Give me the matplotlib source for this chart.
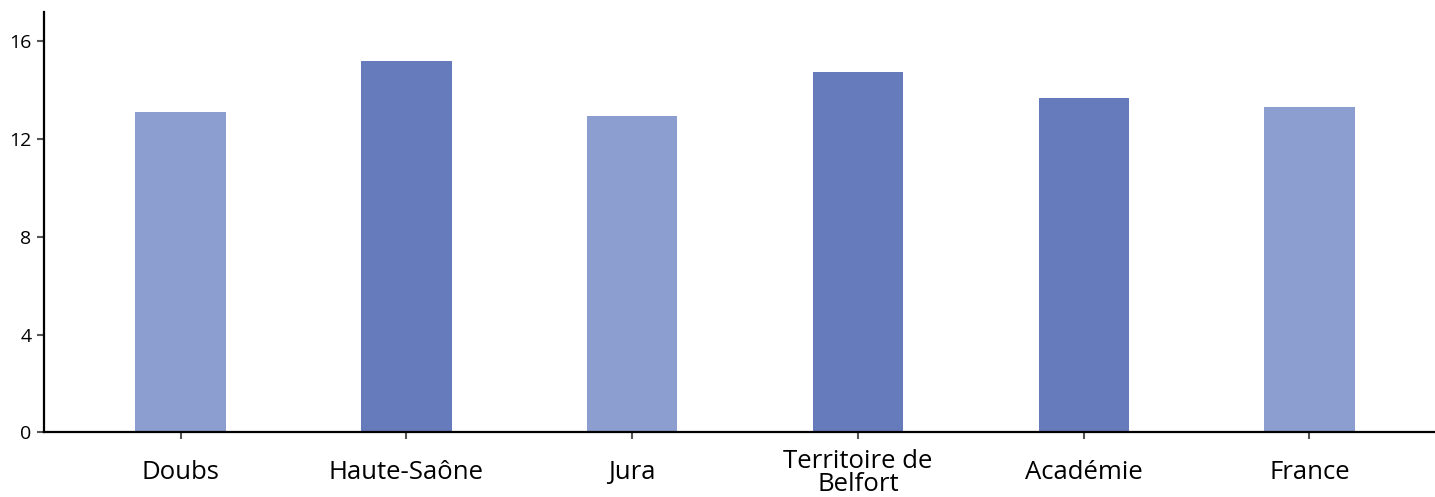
import matplotlib.pyplot as plt

categories = ["Doubs", "Haute-Saône", "Jura", "Territoire de\nBelfort", "Académie", "France"]
values = [13.1, 15.2, 12.95, 14.75, 13.7, 13.3]
shade = ["light", "dark", "light", "dark", "dark", "light"]
yticks = [0, 4, 8, 12, 16]

colours = {"light": "#8b9ecf", "dark": "#667bbb"}

plt.rcParams['font.family'] = ['Open Sans', 'DejaVu Sans']

fig = plt.figure(figsize=(14.35, 4.97), dpi=100)
ax = fig.add_axes([44 / 1435, 1 - 432.3 / 497, 1 - 44 / 1435, (432.3 - 12) / 497])

x = range(len(categories))
ax.bar(x, values, width=0.4, color=[colours[s] for s in shade])

ax.set_xlim(-0.605, 5.556)
ax.set_ylim(0, 17.2)
ax.set_yticks(yticks)
ax.set_xticks(list(x))
ax.set_xticklabels(categories, fontsize=18.5, linespacing=0.9)
for lab in ax.get_xticklabels():
	lab.set_va("center")
ax.tick_params(axis="x", length=5, width=1.5, color="#555555", pad=24)
ax.tick_params(axis="y", length=5, width=1.5, color="#555555", labelsize=14, pad=4)

for side in ["top", "right"]:
	ax.spines[side].set_visible(False)
for side in ["left", "bottom"]:
	ax.spines[side].set_linewidth(1.6)
	ax.spines[side].set_color("black")

fig.savefig("out.png", dpi=100)
